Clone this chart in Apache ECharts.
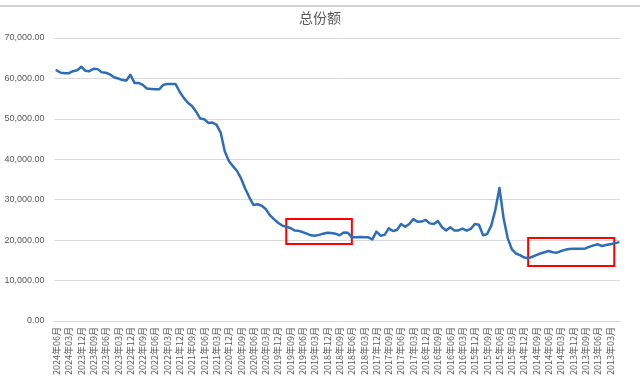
<!DOCTYPE html>
<html>
<head>
<meta charset="utf-8">
<script src="https://cdn.jsdelivr.net/npm/echarts@6/dist/echarts.min.js"></script>
<style>html,body{margin:0;padding:0;background:#fff;}#c{width:640px;height:380px;}</style>
</head>
<body>
<div id="c"></div>
<script>
// Category range: monthly, from 2024-06 back to 2013-01
const startYear = 2024, startMonth = 6, monthCount = 138;
const categories = [];
for (let k = 0; k < monthCount; k++) {
  let m = startMonth - k, y = startYear;
  while (m <= 0) { m += 12; y -= 1; }
  categories.push(y + '年' + (m < 10 ? '0' + m : '' + m) + '月');
}

const totalShares = [
  62000, 61400, 61300, 61300, 61800, 62000, 62900, 61900, 61800, 62400,
  62300, 61500, 61400, 61000, 60300, 60000, 59600, 59500, 60900, 58900,
  58900, 58400, 57500, 57400, 57300, 57300, 58400, 58600, 58600, 58600,
  56700, 55200, 54000, 53200, 51800, 50100, 49900, 49000, 49100, 48500,
  46600, 42000, 39600, 38300, 37100, 35200, 32700, 30600, 28700, 28900,
  28500, 27700, 26200, 25200, 24300, 23600, 23300, 23000, 22400, 22300,
  22000, 21600, 21200, 21100, 21300, 21600, 21850, 21750, 21600, 21200,
  21900, 21850, 20700, 20700, 20800, 20700, 20700, 20200, 22100, 21100,
  21300, 22900, 22250, 22500, 24000, 23300, 24000, 25200, 24550, 24600,
  25000, 24150, 24000, 24700, 23200, 22400, 23200, 22400, 22400, 22850,
  22350, 22800, 24000, 23800, 21200, 21500, 23600, 27500, 32900, 25500,
  20500, 17800, 16700, 16300, 15700, 15500, 15900, 16300, 16700, 17000,
  17300, 17000, 16900, 17300, 17600, 17800, 17850, 17900, 17900, 17950,
  18400, 18700, 18970, 18550, 18800, 19000, 19200, 19450
];

const yTicks = [0, 10000, 20000, 30000, 40000, 50000, 60000, 70000];

// Highlight boxes (category index range, value range)
const box1 = { from: 56, to: 72, low: 19040, high: 25200 };
const box2 = { from: 115, to: 136, low: 13600, high: 20500 };

const fmt = v => v.toLocaleString('en-US', { minimumFractionDigits: 2, maximumFractionDigits: 2 });

const chart = echarts.init(document.getElementById('c'), null, { renderer: 'canvas' });
const band = 4.1;
chart.setOption({
  animation: false,
  backgroundColor: '#ffffff',
  title: {
    text: '总份额', left: 'center', top: 6,
    textStyle: { fontSize: 14, fontWeight: 'normal', color: '#595959', fontFamily: 'Noto Sans CJK SC' }
  },
  graphic: [{
    type: 'line', shape: { x1: 0, y1: 6, x2: 640, y2: 6 },
    style: { stroke: '#a6a6a6', lineWidth: 1 }, silent: true
  }],
  grid: { left: 54.6, top: 38, width: band * monthCount, bottom: 59, containLabel: false },
  xAxis: {
    type: 'category', data: categories, boundaryGap: true,
    axisLine: { lineStyle: { color: '#d9d9d9' } },
    axisTick: { show: false },
    axisLabel: {
      interval: 2, rotate: 90, fontSize: 9, color: '#595959', margin: 6,
      fontFamily: 'Noto Sans CJK SC'
    },
    splitLine: { show: false }
  },
  yAxis: {
    type: 'value', min: yTicks[0], max: yTicks[yTicks.length - 1], interval: 10000,
    axisLine: { show: false }, axisTick: { show: false },
    axisLabel: { formatter: v => fmt(v), fontSize: 9, color: '#595959', margin: 10, fontFamily: 'Liberation Sans' },
    splitLine: { lineStyle: { color: '#d9d9d9', width: 1 } }
  },
  series: [{
    type: 'line', data: totalShares, showSymbol: false, symbol: 'none',
    lineStyle: { color: '#2e6db8', width: 2.5, join: 'round', cap: 'round' },
    markArea: {
      silent: true,
      itemStyle: { color: 'rgba(0,0,0,0)', borderColor: '#ff0000', borderWidth: 2 },
      data: [
        [{ xAxis: box1.from, yAxis: box1.high }, { xAxis: box1.to, yAxis: box1.low }],
        [{ xAxis: box2.from, yAxis: box2.high }, { xAxis: box2.to, yAxis: box2.low }]
      ]
    }
  }]
});
</script>
</body>
</html>
